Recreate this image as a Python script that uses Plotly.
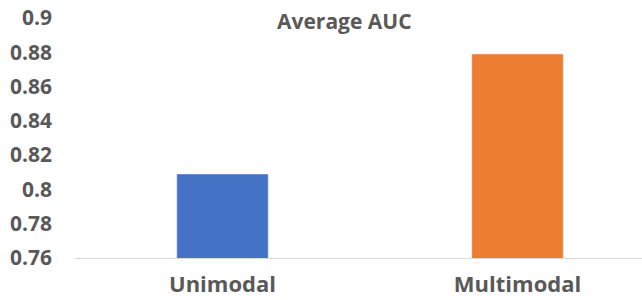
import plotly.graph_objects as go

categories = ["Unimodal", "Multimodal"]
auc_values = [0.809, 0.879]
bar_colors = ["#4472C4", "#ED7D31"]
tick_vals = [0.76, 0.78, 0.80, 0.82, 0.84, 0.86, 0.88, 0.90]
tick_text = ["0.76", "0.78", "0.8", "0.82", "0.84", "0.86", "0.88", "0.9"]

fig = go.Figure(go.Bar(
    x=categories, y=auc_values, marker_color=bar_colors, width=0.31,
))

PLOT_L, PLOT_W, PLOT_H = 75, 567, 240

fig.update_layout(
    width=642, height=300,
    margin=dict(l=PLOT_L, r=0, t=18, b=42, autoexpand=False),
    paper_bgcolor="white", plot_bgcolor="white",
    showlegend=False,
    font=dict(family="Open Sans", color="#595959"),
    annotations=[dict(
        text="<b>Average AUC</b>", x=(344 - PLOT_L) / PLOT_W, xref="paper",
        y=1 + 13 / PLOT_H, yref="paper",
        showarrow=False, font=dict(size=21, color="#595959"),
        xanchor="center", yanchor="top",
    )],
)

fig.update_xaxes(
    range=[-0.5, -0.5 + PLOT_W / 295],
    showline=True, linecolor="#D9D9D9", linewidth=1,
    showgrid=False, ticks="", automargin=False,
    tickfont=dict(size=22, color="#595959", family="Open Sans", weight="bold"),
    ticklabelstandoff=7,
)
fig.update_yaxes(
    range=[0.76, 0.90], tickvals=tick_vals, ticktext=tick_text,
    showline=False, showgrid=False, zeroline=False, ticks="", automargin=False,
    tickfont=dict(size=21, color="#595959", family="Open Sans", weight="bold"),
    ticklabelstandoff=22,
)

fig.write_html("out.html", config={"displayModeBar": False},
               post_script="document.body.style.margin='0';")
